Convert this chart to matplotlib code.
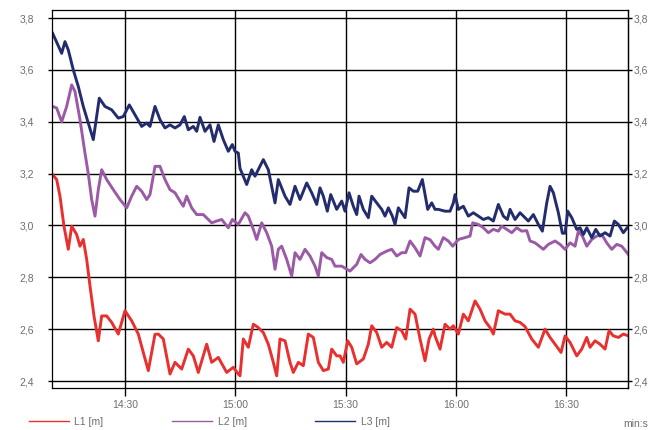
import matplotlib
matplotlib.use("Agg")
import matplotlib.pyplot as plt
from matplotlib.ticker import FixedLocator


plt.rcParams["font.family"] = ["Liberation Sans", "DejaVu Sans"]

# minutes after 14:00 and level in metres for each sensor
l1_time = [10.33, 11.42, 12.32, 13.41, 14.58, 15.5, 16.86, 17.76, 18.66, 19.58,
           20.48, 21.57, 22.74, 23.66, 25.02, 26.38, 28.18, 30.0, 31.82, 33.62,
           34.98, 36.34, 38.16, 39.06, 40.42, 42.24, 43.6, 45.42, 47.22, 48.58,
           49.94, 52.22, 53.58, 55.38, 57.66, 59.46, 60.82, 61.28, 62.18, 63.54,
           64.9, 66.26, 67.62, 68.98, 70.34, 71.26, 72.16, 73.52, 74.88, 75.78,
           77.14, 78.5, 79.86, 81.22, 82.58, 83.94, 85.3, 86.22, 87.58, 88.48,
           89.38, 90.57, 91.66, 93.02, 94.82, 96.18, 97.1, 98.46, 99.82, 101.18,
           102.54, 103.9, 105.26, 106.35, 107.52, 108.88, 110.24, 111.6, 112.69, 113.86,
           114.32, 115.68, 117.04, 118.4, 119.3, 120.66, 122.02, 123.38, 125.2, 126.56,
           127.92, 129.28, 130.18, 131.54, 133.36, 134.72, 136.08, 137.44, 138.8, 140.62,
           142.42, 144.24, 145.6, 146.96, 148.59, 149.68, 151.04, 152.86, 154.22, 155.58,
           156.48, 157.84, 159.2, 160.56, 161.65, 162.82, 164.18, 165.54, 166.9]
l1_level = [3.196, 3.177, 3.113, 2.997, 2.908, 2.997, 2.965, 2.92, 2.946, 2.869,
            2.767, 2.651, 2.555, 2.651, 2.651, 2.626, 2.581, 2.671, 2.632, 2.581,
            2.51, 2.44, 2.58, 2.581, 2.562, 2.427, 2.472, 2.446, 2.523, 2.497,
            2.433, 2.542, 2.472, 2.491, 2.433, 2.453, 2.427, 2.42, 2.562, 2.53,
            2.619, 2.606, 2.587, 2.542, 2.472, 2.42, 2.562, 2.555, 2.472, 2.433,
            2.472, 2.459, 2.581, 2.568, 2.472, 2.44, 2.446, 2.523, 2.497, 2.497,
            2.472, 2.555, 2.53, 2.466, 2.485, 2.542, 2.613, 2.587, 2.53, 2.549,
            2.53, 2.606, 2.594, 2.562, 2.677, 2.658, 2.562, 2.478, 2.562, 2.6,
            2.574, 2.523, 2.619, 2.6, 2.613, 2.581, 2.658, 2.632, 2.709, 2.677,
            2.632, 2.606, 2.581, 2.671, 2.658, 2.658, 2.632, 2.626, 2.61, 2.562,
            2.53, 2.6, 2.568, 2.542, 2.51, 2.574, 2.549, 2.497, 2.523, 2.568,
            2.53, 2.555, 2.542, 2.523, 2.594, 2.574, 2.568, 2.581, 2.574]

l2_time = [10.33, 11.42, 12.78, 14.14, 15.5, 16.4, 17.76, 19.12, 20.02, 20.94,
           21.84, 22.74, 23.66, 25.02, 26.82, 28.64, 30.46, 31.82, 33.18, 34.54,
           35.9, 36.8, 38.16, 39.52, 40.88, 42.24, 43.6, 44.96, 45.86, 46.78,
           48.14, 49.5, 51.3, 53.58, 54.94, 56.3, 58.1, 59.19, 60.82, 62.64,
           63.54, 64.9, 65.82, 67.18, 68.54, 69.9, 70.8, 71.7, 72.62, 73.98,
           75.34, 76.24, 77.6, 78.96, 80.32, 81.68, 82.58, 83.5, 84.86, 86.22,
           87.12, 88.94, 91.2, 93.02, 94.19, 95.28, 96.64, 98.0, 99.36, 101.18,
           102.54, 103.9, 105.26, 106.35, 107.52, 108.88, 110.24, 111.6, 112.96, 114.32,
           115.22, 116.58, 117.94, 119.13, 120.66, 122.48, 123.84, 124.57, 126.1, 127.46,
           128.82, 130.18, 131.54, 132.46, 133.82, 135.18, 136.54, 137.9, 139.26, 140.16,
           141.52, 143.78, 145.14, 146.96, 148.32, 149.68, 151.04, 152.4, 153.3, 154.39,
           155.58, 156.94, 158.3, 159.66, 161.02, 162.38, 163.74, 165.1, 166.9]
l2_level = [3.459, 3.453, 3.4, 3.459, 3.542, 3.517, 3.408, 3.279, 3.2, 3.1,
            3.036, 3.138, 3.215, 3.177, 3.138, 3.1, 3.068, 3.113, 3.151, 3.132,
            3.1, 3.119, 3.228, 3.228, 3.177, 3.138, 3.126, 3.094, 3.074, 3.113,
            3.068, 3.042, 3.042, 3.01, 3.017, 3.023, 2.991, 3.023, 3.004, 3.049,
            3.036, 2.985, 2.946, 3.01, 2.972, 2.92, 2.831, 2.908, 2.92, 2.869,
            2.805, 2.895, 2.869, 2.908, 2.882, 2.843, 2.805, 2.895, 2.876, 2.869,
            2.843, 2.843, 2.824, 2.85, 2.888, 2.869, 2.856, 2.869, 2.888, 2.901,
            2.908, 2.882, 2.895, 2.895, 2.94, 2.914, 2.882, 2.953, 2.945, 2.92,
            2.908, 2.953, 2.94, 2.92, 2.946, 2.953, 2.959, 3.01, 3.004, 2.991,
            2.972, 2.985, 2.978, 2.997, 2.985, 2.972, 2.991, 2.978, 2.98, 2.94,
            2.933, 2.908, 2.927, 2.94, 2.927, 2.908, 2.933, 2.92, 2.978, 2.959,
            2.92, 2.946, 2.959, 2.965, 2.933, 2.908, 2.927, 2.92, 2.888]

l3_time = [10.33, 12.78, 13.68, 14.58, 15.94, 17.3, 18.66, 20.02, 21.38, 23.01,
           24.56, 26.38, 28.18, 29.54, 31.17, 32.72, 34.54, 35.9, 36.8, 38.16,
           39.52, 40.88, 42.24, 43.6, 44.96, 46.13, 47.22, 48.58, 49.5, 50.4,
           51.76, 53.12, 54.21, 55.38, 56.74, 58.1, 59.19, 59.92, 60.82, 61.28,
           63.1, 64.46, 65.36, 67.62, 68.98, 70.8, 71.7, 73.52, 74.88, 76.24,
           77.6, 79.42, 80.78, 82.14, 83.04, 83.94, 85.03, 85.95, 87.58, 88.94,
           89.84, 90.93, 92.1, 93.02, 93.65, 94.82, 96.18, 97.1, 98.46, 99.82,
           100.72, 101.62, 102.71, 103.44, 104.34, 106.16, 107.25, 108.42, 109.61, 110.87,
           112.33, 113.42, 114.32, 115.22, 117.04, 118.4, 119.3, 119.76, 120.66, 122.02,
           123.38, 124.74, 126.1, 127.46, 128.82, 130.18, 131.54, 132.9, 133.99, 134.72,
           136.08, 137.44, 138.8, 139.7, 141.06, 142.42, 143.51, 144.7, 145.6, 146.5,
           147.86, 148.95, 149.68, 150.41, 151.5, 152.86, 153.76, 154.66, 155.58, 156.94,
           158.03, 159.2, 160.56, 161.92, 163.09, 164.18, 165.54, 166.9]
l3_level = [3.741, 3.664, 3.709, 3.677, 3.6, 3.536, 3.459, 3.395, 3.331, 3.491,
            3.459, 3.446, 3.414, 3.42, 3.465, 3.427, 3.382, 3.395, 3.382, 3.459,
            3.408, 3.376, 3.388, 3.376, 3.388, 3.42, 3.369, 3.382, 3.363, 3.417,
            3.363, 3.388, 3.324, 3.388, 3.331, 3.286, 3.312, 3.286, 3.279, 3.22,
            3.158, 3.215, 3.19, 3.254, 3.215, 3.087, 3.177, 3.113, 3.081, 3.151,
            3.1, 3.164, 3.126, 3.081, 3.145, 3.113, 3.055, 3.119, 3.062, 3.094,
            3.055, 3.126, 3.074, 3.042, 3.113, 3.062, 3.03, 3.113, 3.087, 3.062,
            3.036, 3.068, 3.036, 3.004, 3.068, 3.03, 3.145, 3.132, 3.132, 3.177,
            3.062, 3.087, 3.062, 3.062, 3.055, 3.055, 3.087, 3.119, 3.062, 3.074,
            3.036, 3.049, 3.036, 3.023, 3.03, 3.017, 3.081, 3.036, 3.023, 3.062,
            3.023, 3.049, 3.03, 3.017, 3.042, 3.004, 2.978, 3.087, 3.151, 3.126,
            3.049, 2.97, 2.97, 3.055, 3.03, 2.985, 2.991, 2.965, 2.991, 2.953,
            2.985, 2.959, 2.972, 2.959, 3.017, 3.004, 2.972, 2.997]

series_names = ["L1 [m]", "L2 [m]", "L3 [m]"]
series_colors = ["#e8302f", "#9b5aa5", "#232d6e"]

x_ticks = [30, 60, 90, 120, 150]
x_labels = ["14:30", "15:00", "15:30", "16:00", "16:30"]
y_ticks = [2.4, 2.6, 2.8, 3.0, 3.2, 3.4, 3.6, 3.8]
y_labels = [f"{v:.1f}".replace(".", ",") for v in y_ticks]

label_grey = "#6e6e6e"
font_size = 7.5

fig = plt.figure(figsize=(6.55, 4.30), dpi=100)
ax = fig.add_axes([52 / 655, 42 / 430, 576 / 655, 378 / 430])

series = [(l1_time, l1_level), (l2_time, l2_level), (l3_time, l3_level)]
for (t, v), name, color in zip(series, series_names, series_colors):
    ax.plot(t, v, color=color, lw=2.1, label=name, solid_joinstyle="round")

ax.set_xlim(10.15, 166.8)
ax.set_ylim(2.373, 3.831)

ax.xaxis.set_major_locator(FixedLocator(x_ticks))
ax.set_xticklabels(x_labels)
ax.yaxis.set_major_locator(FixedLocator(y_ticks))
ax.set_yticklabels(y_labels)

ax.grid(True, color="black", lw=1.0)
ax.set_axisbelow(True)
for spine in ax.spines.values():
    spine.set_color("black")
    spine.set_linewidth(0.9)

# left scale: labels set well away from the ticks
ax.tick_params(axis="y", left=True, right=False, length=3, width=1.0, pad=10,
               labelsize=font_size, labelcolor=label_grey)
ax.tick_params(axis="x", length=5.5, width=1.0, pad=3, labelsize=font_size,
               labelcolor=label_grey)

# right scale repeats the same values, tight against the ticks
right = ax.secondary_yaxis("right")
right.yaxis.set_major_locator(FixedLocator(y_ticks))
right.set_yticklabels(y_labels)
right.tick_params(axis="y", length=3, width=1.0, pad=1, labelsize=font_size,
                  labelcolor=label_grey)
right.spines["right"].set_linewidth(0.9)

handles = [plt.Line2D([], [], color=c, lw=1.0) for c in series_colors]
fig.legend(handles, series_names, loc="center left",
           bbox_to_anchor=(29 / 655, 1 - 422 / 430), ncol=3, frameon=False,
           fontsize=font_size, handlelength=3.8, handletextpad=0.55,
           columnspacing=6.6, borderpad=0, borderaxespad=0,
           labelcolor=label_grey)
fig.text(648 / 655, 1 - 424 / 430, "min:s", ha="right", va="center",
         fontsize=font_size, color=label_grey)

fig.savefig("out.png", dpi=100)
